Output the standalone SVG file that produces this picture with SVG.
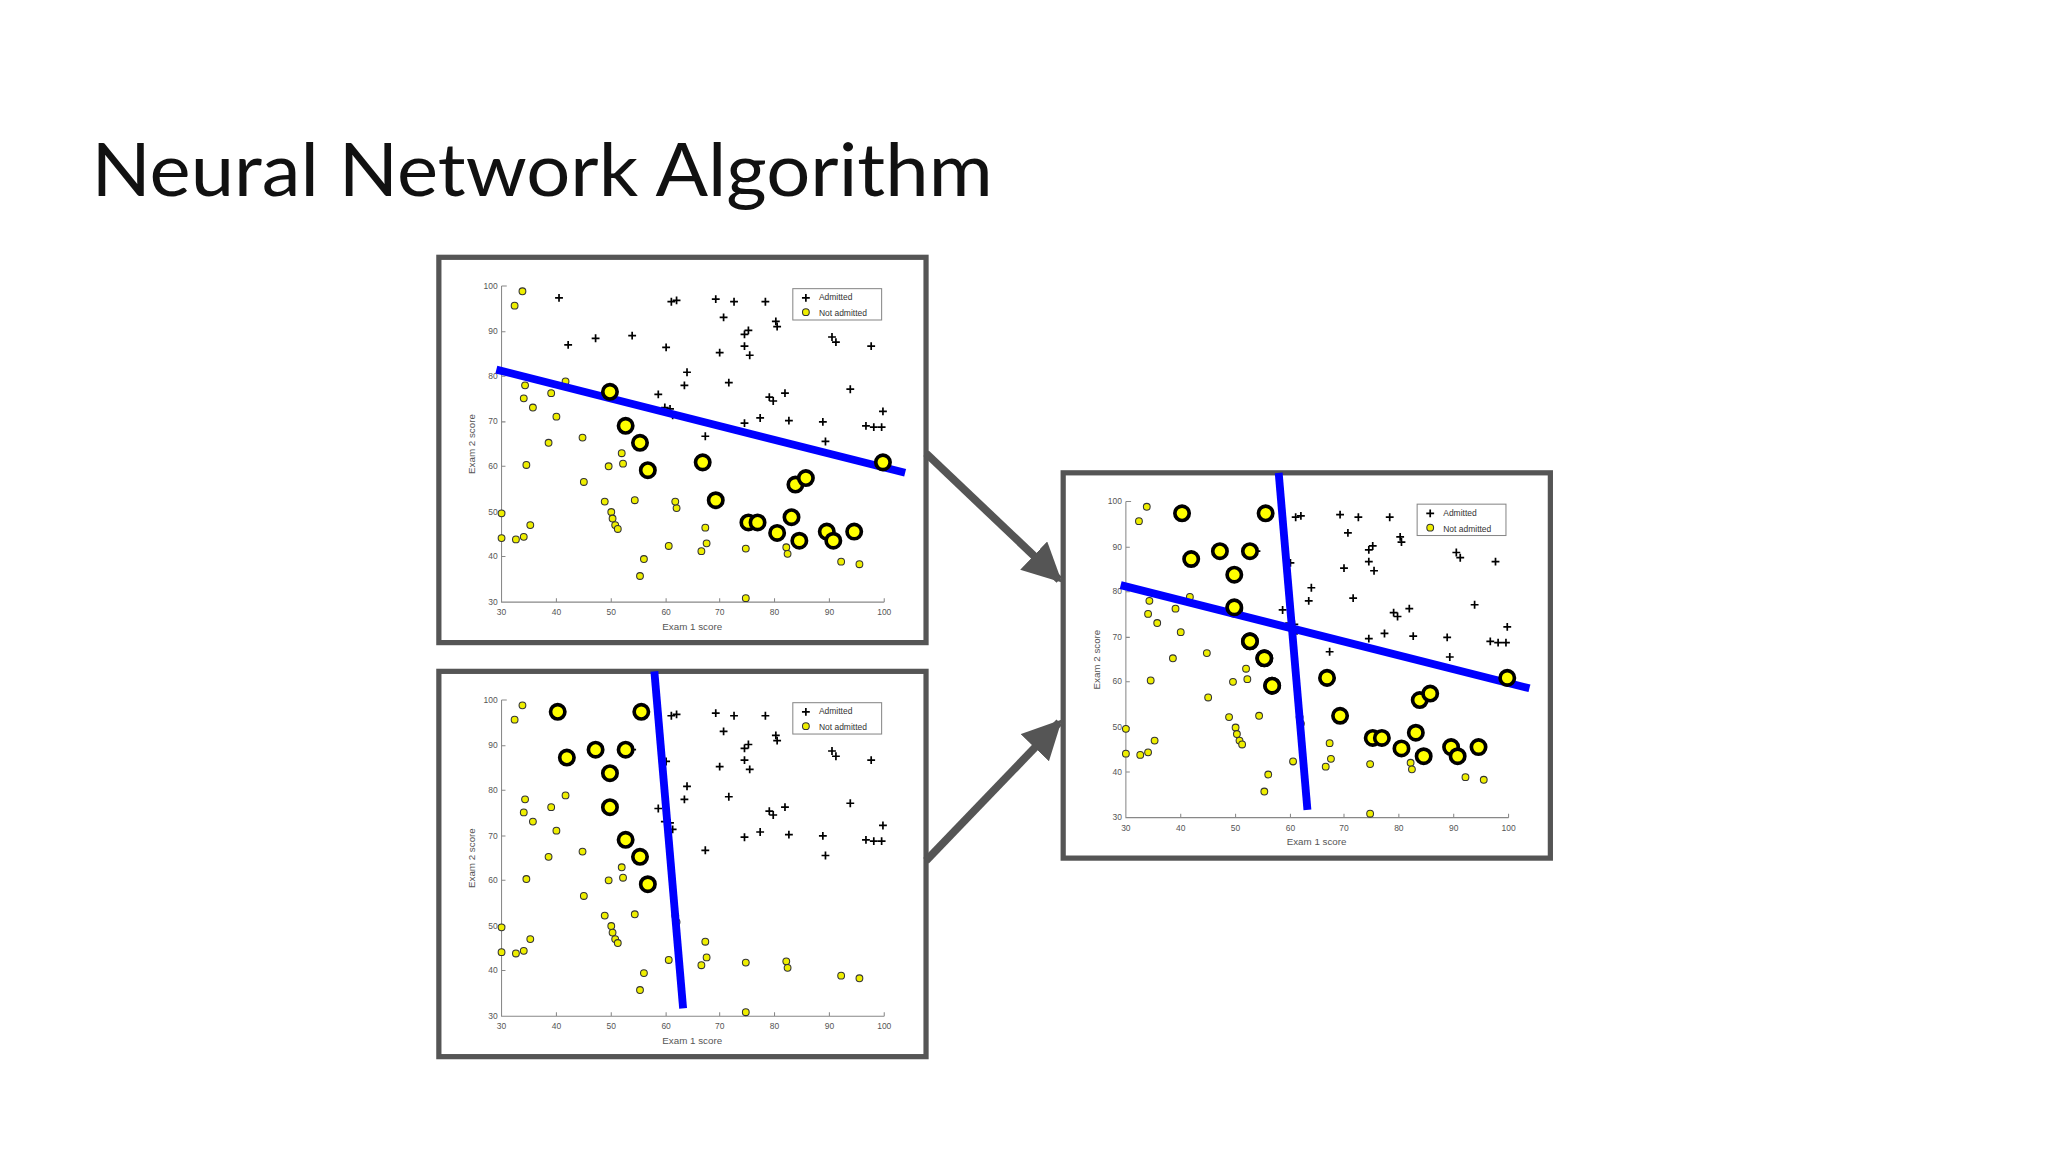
<svg xmlns="http://www.w3.org/2000/svg" xmlns:xlink="http://www.w3.org/1999/xlink" width="2048" height="1152" viewBox="0 0 2048 1152">
<style>
.frame{fill:#fff;stroke:#555;stroke-width:4}
.ax{stroke:#888;stroke-width:0.8;fill:none}
.tk{font-family:"Liberation Sans",sans-serif;font-size:6.5px;fill:#555}
.lb{font-family:"Liberation Sans",sans-serif;font-size:7.5px;fill:#555}
.lg{font-family:"Liberation Sans",sans-serif;font-size:6.5px;fill:#333}
.y{fill:#ee0;stroke:#333;stroke-width:0.8}
.b{fill:#ff0;stroke:#000;stroke-width:2.8}
.bl{stroke:#00f;stroke-width:6;stroke-linecap:butt}
.conn{stroke:#555;stroke-width:6;fill:none}
</style>
<defs>
<path id="p" d="M-3,0h6M0,-3v6" stroke="#000" stroke-width="1.3"/>
<circle id="s" r="2.6" class="y"/>
<g id="base">
<path class="ax" d="M384,219V461H677M384,219h4M384,254h3M384,288h3M384,323h3M384,357h3M384,392h3M384,426h3M384,461M426,461v-3M468,461v-3M510,461v-3M551,461v-3M593,461v-3M635,461v-3M677,461v-3"/>
<g class="tk" text-anchor="end"><text x="381" y="221">100</text><text x="381" y="256">90</text><text x="381" y="290">80</text><text x="381" y="325">70</text><text x="381" y="359">60</text><text x="381" y="394">50</text><text x="381" y="428">40</text><text x="381" y="463">30</text></g>
<g class="tk" text-anchor="middle"><text x="384" y="471">30</text><text x="426" y="471">40</text><text x="468" y="471">50</text><text x="510" y="471">60</text><text x="551" y="471">70</text><text x="593" y="471">80</text><text x="635" y="471">90</text><text x="677" y="471">100</text></g>
<text class="lb" x="530" y="482" text-anchor="middle">Exam 1 score</text>
<text class="lb" transform="translate(364,340) rotate(-90)" text-anchor="middle">Exam 2 score</text>
<rect x="607" y="221" width="68" height="24" fill="#fff" stroke="#888" stroke-width="0.8"/>
<use xlink:href="#p" x="617" y="228"/><text class="lg" x="627" y="230">Admitted</text>
<use xlink:href="#s" x="617" y="239"/><text class="lg" x="627" y="242">Not admitted</text>
<g>
<use xlink:href="#s" x="400" y="223"/><use xlink:href="#s" x="394" y="234"/><use xlink:href="#s" x="402" y="295"/><use xlink:href="#s" x="401" y="305"/><use xlink:href="#s" x="408" y="312"/><use xlink:href="#s" x="403" y="356"/><use xlink:href="#s" x="384" y="393"/><use xlink:href="#s" x="384" y="412"/><use xlink:href="#s" x="395" y="413"/><use xlink:href="#s" x="401" y="411"/><use xlink:href="#s" x="406" y="402"/><use xlink:href="#s" x="422" y="301"/><use xlink:href="#s" x="433" y="292"/><use xlink:href="#s" x="426" y="319"/><use xlink:href="#s" x="420" y="339"/><use xlink:href="#s" x="446" y="335"/><use xlink:href="#s" x="447" y="369"/><use xlink:href="#s" x="463" y="384"/><use xlink:href="#s" x="466" y="357"/><use xlink:href="#s" x="476" y="347"/><use xlink:href="#s" x="477" y="355"/><use xlink:href="#s" x="468" y="392"/><use xlink:href="#s" x="469" y="397"/><use xlink:href="#s" x="471" y="402"/><use xlink:href="#s" x="473" y="405"/><use xlink:href="#s" x="486" y="383"/><use xlink:href="#s" x="493" y="428"/><use xlink:href="#s" x="490" y="441"/><use xlink:href="#s" x="512" y="418"/><use xlink:href="#s" x="518" y="389"/><use xlink:href="#s" x="517" y="384"/><use xlink:href="#s" x="540" y="404"/><use xlink:href="#s" x="541" y="416"/><use xlink:href="#s" x="537" y="422"/><use xlink:href="#s" x="571" y="420"/><use xlink:href="#s" x="571" y="458"/><use xlink:href="#s" x="602" y="419"/><use xlink:href="#s" x="603" y="424"/><use xlink:href="#s" x="644" y="430"/><use xlink:href="#s" x="658" y="432"/>
</g>
<g>
<use xlink:href="#p" x="428" y="228"/><use xlink:href="#p" x="435" y="264"/><use xlink:href="#p" x="456" y="259"/><use xlink:href="#p" x="484" y="257"/><use xlink:href="#p" x="514" y="231"/><use xlink:href="#p" x="518" y="230"/><use xlink:href="#p" x="510" y="266"/><use xlink:href="#p" x="526" y="285"/><use xlink:href="#p" x="524" y="295"/><use xlink:href="#p" x="504" y="302"/><use xlink:href="#p" x="509" y="312"/><use xlink:href="#p" x="513" y="313"/><use xlink:href="#p" x="515" y="318"/><use xlink:href="#p" x="548" y="229"/><use xlink:href="#p" x="562" y="231"/><use xlink:href="#p" x="554" y="243"/><use xlink:href="#p" x="551" y="270"/><use xlink:href="#p" x="570" y="256"/><use xlink:href="#p" x="573" y="253"/><use xlink:href="#p" x="570" y="265"/><use xlink:href="#p" x="574" y="272"/><use xlink:href="#p" x="586" y="231"/><use xlink:href="#p" x="594" y="246"/><use xlink:href="#p" x="595" y="250"/><use xlink:href="#p" x="558" y="293"/><use xlink:href="#p" x="570" y="324"/><use xlink:href="#p" x="582" y="320"/><use xlink:href="#p" x="589" y="304"/><use xlink:href="#p" x="592" y="307"/><use xlink:href="#p" x="601" y="301"/><use xlink:href="#p" x="604" y="322"/><use xlink:href="#p" x="640" y="262"/><use xlink:href="#p" x="637" y="258"/><use xlink:href="#p" x="667" y="265"/><use xlink:href="#p" x="651" y="298"/><use xlink:href="#p" x="630" y="323"/><use xlink:href="#p" x="632" y="338"/><use xlink:href="#p" x="663" y="326"/><use xlink:href="#p" x="676" y="315"/><use xlink:href="#p" x="675" y="327"/><use xlink:href="#p" x="669" y="327"/><use xlink:href="#p" x="540" y="334"/>
</g>
</g>
<g id="setA">
<circle class="b" cx="467" cy="300" r="5.5"/><circle class="b" cx="479" cy="326" r="5.5"/><circle class="b" cx="490" cy="339" r="5.5"/><circle class="b" cx="496" cy="360" r="5.5"/><circle class="b" cx="538" cy="354" r="5.5"/><circle class="b" cx="548" cy="383" r="5.5"/><circle class="b" cx="573" cy="400" r="5.5"/><circle class="b" cx="580" cy="400" r="5.5"/><circle class="b" cx="595" cy="408" r="5.5"/><circle class="b" cx="606" cy="396" r="5.5"/><circle class="b" cx="609" cy="371" r="5.5"/><circle class="b" cx="617" cy="366" r="5.5"/><circle class="b" cx="612" cy="414" r="5.5"/><circle class="b" cx="633" cy="407" r="5.5"/><circle class="b" cx="638" cy="414" r="5.5"/><circle class="b" cx="654" cy="407" r="5.5"/><circle class="b" cx="676" cy="354" r="5.5"/>
</g>
<g id="setB">
<circle class="b" cx="427" cy="228" r="5.5"/><circle class="b" cx="434" cy="263" r="5.5"/><circle class="b" cx="456" cy="257" r="5.5"/><circle class="b" cx="467" cy="275" r="5.5"/><circle class="b" cx="479" cy="257" r="5.5"/><circle class="b" cx="491" cy="228" r="5.5"/><circle class="b" cx="467" cy="301" r="5.5"/><circle class="b" cx="479" cy="326" r="5.5"/><circle class="b" cx="490" cy="339" r="5.5"/><circle class="b" cx="496" cy="360" r="5.5"/>
</g>
<line id="lineA" class="bl" x1="380" y1="283" x2="693" y2="362"/>
<line id="lineB" class="bl" x1="501" y1="197" x2="523" y2="455"/>
<marker id="ah" viewBox="0 0 10 10" refX="9" refY="5" markerWidth="5" markerHeight="5" orient="auto" markerUnits="strokeWidth"><path d="M0,0L10,5L0,10z" fill="#555"/></marker>
</defs>
<rect width="2048" height="1152" fill="#fff"/>
<g transform="scale(1.30612)">
<text x="70" y="150" font-family="Lato,'Noto Sans',sans-serif" font-size="57" fill="#111" textLength="690" lengthAdjust="spacingAndGlyphs">Neural Network Algorithm</text>
<g id="plot1">
<rect class="frame" x="336" y="197" width="373" height="295"/>
<use xlink:href="#base"/><use xlink:href="#lineA"/><use xlink:href="#setA"/>
</g>
<g id="plot2" transform="translate(0,317)">
<rect class="frame" x="336" y="197" width="373" height="295"/>
<use xlink:href="#base"/><use xlink:href="#setB"/><use xlink:href="#lineB"/>
</g>
<g id="plot3" transform="translate(478,165)">
<rect class="frame" x="336" y="197" width="373" height="295"/>
<use xlink:href="#base"/><use xlink:href="#setB"/><use xlink:href="#lineB"/><use xlink:href="#lineA"/><use xlink:href="#setA"/>
</g>
<g id="connectors">
<line class="conn" x1="709" y1="347" x2="811" y2="444" marker-end="url(#ah)"/>
<line class="conn" x1="709" y1="659" x2="811" y2="553" marker-end="url(#ah)"/>
</g>
</g>
</svg>
